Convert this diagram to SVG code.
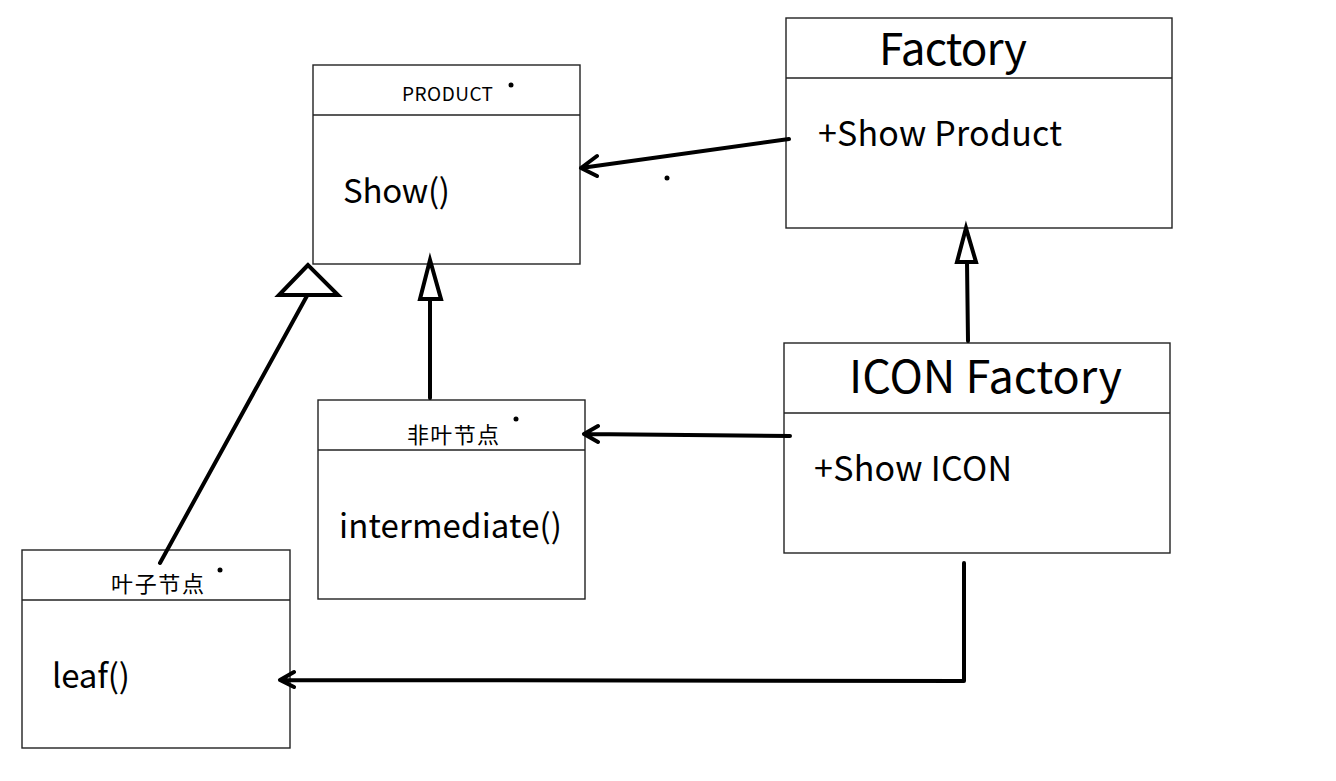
<svg xmlns="http://www.w3.org/2000/svg" width="1336" height="781" viewBox="0 0 1336 781">
<style>
.box{fill:#fff;stroke:#222;stroke-width:1.4}
.sep{stroke:#222;stroke-width:1.4}
.t{font-family:"Noto Sans CJK SC","Noto Sans",sans-serif;fill:#000}
.c{stroke:#000;stroke-width:4;fill:none;stroke-linecap:round;stroke-linejoin:round}
.tri{stroke:#000;stroke-width:4;fill:#fff;stroke-linejoin:miter}
</style>
<rect width="1336" height="781" fill="#fff"/>
<g id="product">
<rect class="box" x="313" y="65" width="267" height="199"/>
<line class="sep" x1="313" y1="115" x2="580" y2="115"/>
<text class="t" x="402" y="101" font-size="19" textLength="91">PRODUCT</text>
<circle cx="511" cy="85" r="2.5"/>
<text class="t" x="343" y="203" font-size="33" textLength="107">Show()</text>
</g>
<g id="factory">
<rect class="box" x="786" y="18" width="386" height="210"/>
<line class="sep" x1="786" y1="78" x2="1172" y2="78"/>
<text class="t" x="879" y="65" font-size="44" textLength="148">Factory</text>
<text class="t" x="818" y="146" font-size="34" textLength="244">+Show Product</text>
</g>
<g id="icon-factory">
<rect class="box" x="784" y="343" width="386" height="210"/>
<line class="sep" x1="784" y1="413" x2="1170" y2="413"/>
<text class="t" x="849" y="393" font-size="45" textLength="273">ICON Factory</text>
<text class="t" x="814" y="481" font-size="34" textLength="198">+Show ICON</text>
</g>
<g id="non-leaf">
<rect class="box" x="318" y="400" width="267" height="199"/>
<line class="sep" x1="318" y1="450" x2="585" y2="450"/>
<text class="t" x="407" y="443" font-size="22" textLength="92">非叶节点</text>
<circle cx="516" cy="419" r="2.5"/>
<text class="t" x="339" y="538" font-size="33" textLength="223">intermediate()</text>
</g>
<g id="leaf">
<rect class="box" x="22" y="550" width="268" height="198"/>
<line class="sep" x1="22" y1="600" x2="290" y2="600"/>
<text class="t" x="111" y="592" font-size="22" textLength="93">叶子节点</text>
<circle cx="220" cy="570" r="2.5"/>
<text class="t" x="52" y="688" font-size="33" textLength="78">leaf()</text>
</g>
<g id="connectors">
<path class="c" d="M789 139 L581 168 M597 156 L581 168 L597 176"/>
<circle cx="667" cy="178" r="2.5"/>
<path class="c" d="M968 341 L967 262"/>
<polygon class="tri" points="966,228 957,262 976,262"/>
<path class="c" d="M790 436 L584 434 M598 426 L584 434 L598 442"/>
<path class="c" d="M430 398 L430 300"/>
<polygon class="tri" points="430,260 420,299 441,299"/>
<path class="c" d="M160 563 L308 294"/>
<polygon class="tri" points="308,265 279,295 338,295"/>
<path class="c" d="M964 563 L964 681 L280 680 M294 672 L280 680 L294 687"/>
</g>
</svg>
